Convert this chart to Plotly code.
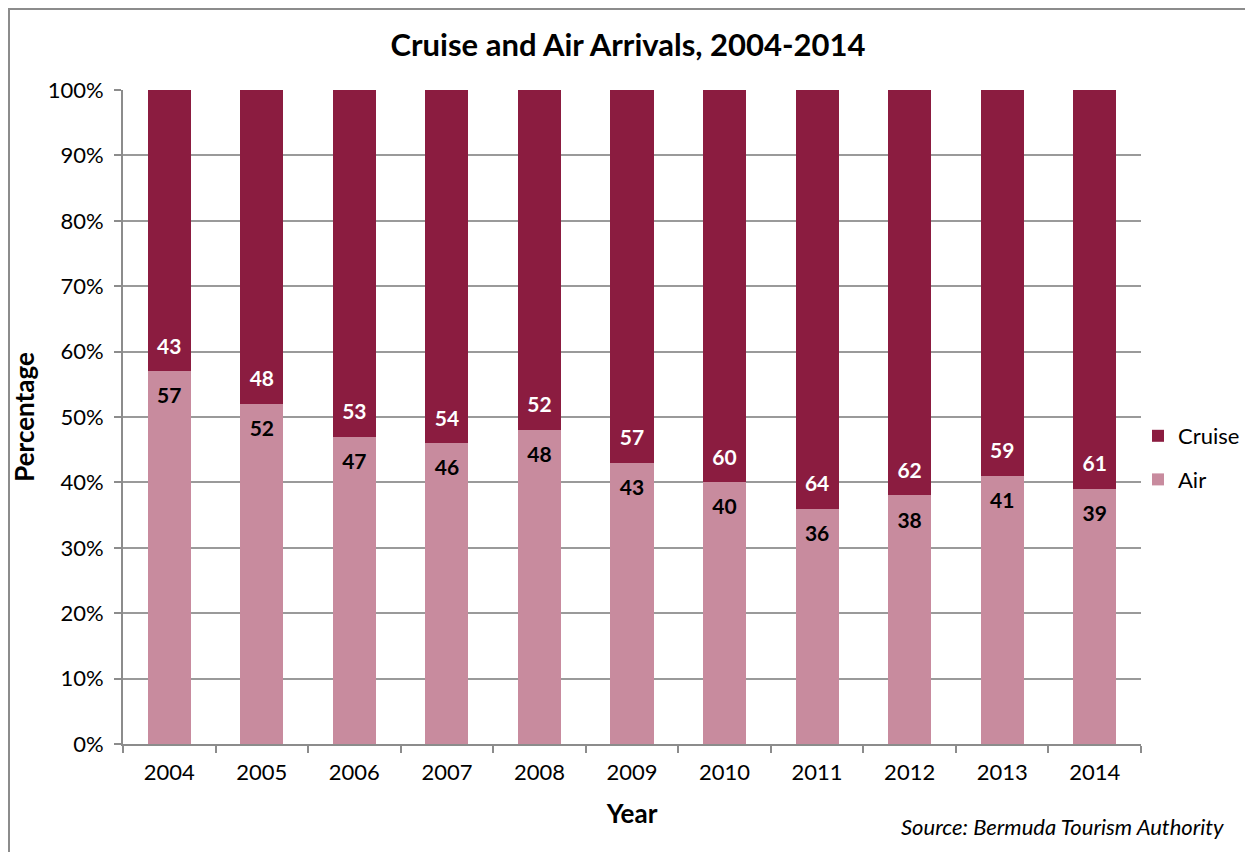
import plotly.graph_objects as go

years = ["2004", "2005", "2006", "2007", "2008", "2009", "2010", "2011", "2012", "2013", "2014"]
air = [57, 52, 47, 46, 48, 43, 40, 36, 38, 41, 39]
cruise = [43, 48, 53, 54, 52, 57, 60, 64, 62, 59, 61]

FONT = "Lato"
AIR_C = "rgb(200,139,158)"
CRUISE_C = "rgb(139,28,64)"
AXC = "#8c8c8c"

# page offset (browser body margin)
OFF = 8
W, H = 1253 - OFF, 852 - OFF
# plot area in screen pixels
L, R, T, B = 123, 1141, 90, 744
pw, ph = R - L, B - T

def px(x):
    return (x - L) / pw

def py(y):
    return (B - y) / ph

fig = go.Figure()
fig.add_trace(go.Bar(
    x=years, y=air, name="Air", legendgroup="air", legendrank=2,
    marker=dict(color=AIR_C, line=dict(width=0)),
))
fig.add_trace(go.Bar(
    x=years, y=cruise, name="Cruise", legendgroup="cruise", legendrank=1,
    marker=dict(color=CRUISE_C, line=dict(width=0)),
))
# value labels: air near top of its segment, cruise near bottom of its segment
fig.add_trace(go.Scatter(
    x=years, y=[a - 4.1 for a in air], mode="text", text=[str(v) for v in air],
    textfont=dict(family=FONT, size=21, color="black", weight="bold"),
    showlegend=False, hoverinfo="skip", cliponaxis=False,
))
fig.add_trace(go.Scatter(
    x=years, y=[a + 3.5 for a in air], mode="text", text=[str(v) for v in cruise],
    textfont=dict(family=FONT, size=21, color="white", weight="bold"),
    showlegend=False, hoverinfo="skip", cliponaxis=False,
))

fig.update_layout(
    width=W, height=H,
    margin=dict(l=L - OFF, r=W - (R - OFF), t=T - OFF, b=H - (B - OFF), autoexpand=False),
    barmode="stack", bargap=0.535,
    plot_bgcolor="white", paper_bgcolor="white",
    font=dict(family=FONT, size=20, color="black"),
    title=dict(text="<b>Cruise and Air Arrivals, 2004-2014</b>", x=px(630), xanchor="center",
               y=1 - (45 - OFF) / H, yanchor="middle", yref="container",
               font=dict(family=FONT, size=31, color="black")),
    xaxis=dict(
        type="category", range=[-0.5, len(years) - 0.5],
        showline=True, linecolor=AXC, linewidth=2,
        ticks="outside", tickson="boundaries", ticklen=7, tickcolor=AXC, tickwidth=2,
        tickfont=dict(family=FONT, size=22, color="black"), ticklabelstandoff=8,
        title=dict(text="<b>Year</b>", font=dict(family=FONT, size=26, color="black"), standoff=20),
        showgrid=False,
    ),
    yaxis=dict(
        range=[0, 100], tickvals=list(range(0, 101, 10)),
        ticktext=[f"{v}%" for v in range(0, 101, 10)],
        showline=True, linecolor=AXC, linewidth=2,
        ticks="outside", ticklen=7, tickcolor=AXC, tickwidth=2,
        showgrid=True, gridcolor="#9a9a9a", gridwidth=1.5,
        tickfont=dict(family=FONT, size=22, color="black"), ticklabelstandoff=6,
        title=dict(text="<b>Percentage</b>", font=dict(family=FONT, size=26, color="black"), standoff=10),
        zeroline=False,
    ),
    legend=dict(x=px(1138), y=py(458), xanchor="left", yanchor="middle",
                traceorder="grouped", font=dict(family=FONT, size=22, color="black"),
                itemwidth=30, tracegroupgap=12, bgcolor="rgba(0,0,0,0)"),
    showlegend=True,
)

fig.add_shape(type="rect", xref="paper", yref="paper",
              x0=px(OFF + 1), x1=px(1248), y0=py(880), y1=py(OFF + 1),
              line=dict(color=AXC, width=2), fillcolor="rgba(0,0,0,0)", layer="below")

fig.add_annotation(text="<i>Source: Bermuda Tourism Authority</i>", xref="paper", yref="paper",
                   x=px(1226), y=py(826), xanchor="right", yanchor="middle", showarrow=False,
                   font=dict(family=FONT, size=22, color="black"))

fig.write_html("out.html")
